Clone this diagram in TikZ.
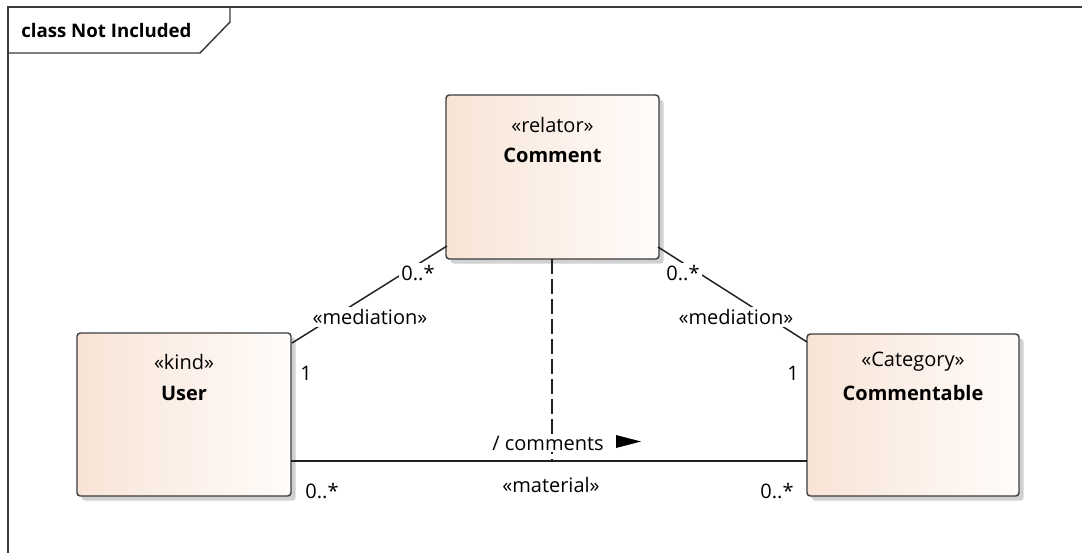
\documentclass[tikz,border=0pt]{standalone}
\usepackage{fontspec}
\setmainfont{Open Sans}
\usetikzlibrary{arrows.meta,shadows}

\definecolor{boxleft}{HTML}{F8E4D6}
\definecolor{boxright}{HTML}{FFFCFA}
\definecolor{boxline}{HTML}{3C3C3C}
\definecolor{inkline}{HTML}{202020}

\tikzset{
  classbox/.style={rectangle, rounded corners=2.5pt, draw=boxline, line width=1.1pt,
    left color=boxleft, right color=boxright, inner sep=0pt,
    drop shadow={shadow xshift=3.5pt, shadow yshift=-3.5pt, opacity=0.18, fill=black}},
  stereo/.style={font=\fontsize{15}{18}\selectfont, text=black},
  cname/.style={font=\fontsize{15}{18}\selectfont\bfseries, text=black},
  conn/.style={draw=inkline, line width=1.1pt},
  lbl/.style={font=\fontsize{15}{18}\selectfont, text=black, fill=white, inner sep=1.5pt},
  mult/.style={font=\fontsize{15}{18}\selectfont, text=black, inner sep=1pt},
  dashline/.style={draw=inkline, line width=1.1pt, dash pattern=on 11.25pt off 3.75pt}
}

\begin{document}
\begin{tikzpicture}[x=0.75pt,y=-0.75pt]
\useasboundingbox (0,0) rectangle (1082,553);
\fill[white] (0,0) rectangle (1082,553);

% diagram frame with name tab
\draw[boxline, line width=1.1pt] (8,553) -- (8,7) -- (1082,7);
\draw[boxline, line width=1.1pt] (8,53) -- (200,53) -- (230,22) -- (230,7);
\node[font=\fontsize{14}{17}\selectfont\bfseries, anchor=west, inner sep=0pt] (title) at (21,30) {class Not Included};

% classes
\node[classbox, minimum width=159.75pt, minimum height=123pt] (comment) at (552.5,177) {};
\node[classbox, minimum width=160.5pt, minimum height=122.25pt] (user) at (184,414.5) {};
\node[classbox, minimum width=159pt, minimum height=121.5pt] (commentable) at (913,415) {};

\node[stereo] (commentS) at (552.5,125) {«relator»};
\node[cname] (commentN) at (552.5,155) {Comment};
\node[stereo] (userS) at (184,362) {«kind»};
\node[cname] (userN) at (184,393) {User};
\node[stereo] (commentableS) at (913,362) {«Category»};
\node[cname] (commentableN) at (913,393) {Commentable};

% connection points on the class borders
\coordinate (cBL) at (447,246);
\coordinate (cBR) at (658,247);
\coordinate (cBC) at (552,259);
\coordinate (uTR) at (292,343);
\coordinate (uR) at (291,461);
\coordinate (kTL) at (807,342);
\coordinate (kL) at (807,461);
\coordinate (mid) at (552,461);

% mediation associations
\draw[conn] (cBL) -- (uTR);
\draw[conn] (cBR) -- (kTL);
% material association and its derivation
\draw[conn] (uR) -- (kL);
\draw[dashline] (cBC) -- (mid);

% labels
\node[lbl] (lm1) at (370,317) {«mediation»};
\node[lbl] (lm1a) at (418,273) {0..*};
\node[mult] (lm1b) at (306,373) {1};
\node[lbl] (lm2) at (736,317) {«mediation»};
\node[lbl] (lm2a) at (683,273) {0..*};
\node[mult] (lm2b) at (793,373) {1};

\node[lbl] (lmat) at (548,443) {/ comments};
\fill[black] (616,435) -- (641,441.5) -- (616,448) -- cycle;
\node[mult] (lmatS) at (551,485) {«material»};
\node[mult] (lmatU) at (322,491) {0..*};
\node[mult] (lmatK) at (777,491) {0..*};
\end{tikzpicture}
\end{document}
